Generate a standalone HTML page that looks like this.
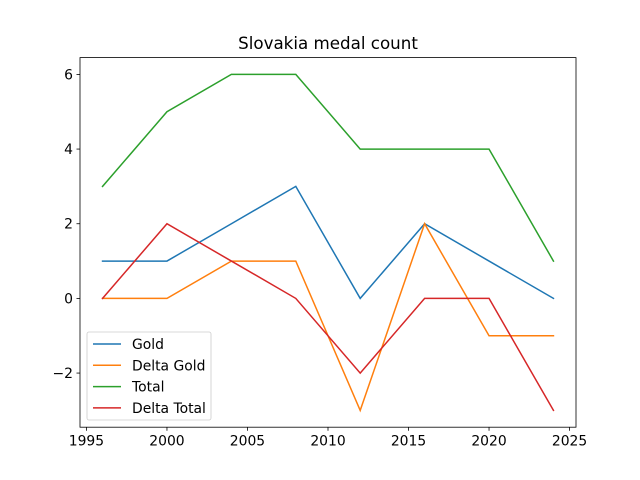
<!DOCTYPE html>
<html><head><meta charset="utf-8"><style>body{margin:0;background:#fff}svg{display:block;font-family:"DejaVu Sans","Liberation Sans",sans-serif}</style></head>
<body>
<svg id="chart" width="640" height="480" xmlns="http://www.w3.org/2000/svg"></svg>
<script>
const years = [1996, 2000, 2004, 2008, 2012, 2016, 2020, 2024];
const gold = [1, 1, 2, 3, 0, 2, 1, 0];
const deltaGold = [0, 0, 1, 1, -3, 2, -1, -1];
const total = [3, 5, 6, 6, 4, 4, 4, 1];
const deltaTotal = [0, 2, 1, 0, -2, 0, 0, -3];
const xTicks = [1995, 2000, 2005, 2010, 2015, 2020, 2025];
const yTicks = [-2, 0, 2, 4, 6];
const seriesNames = ["Gold", "Delta Gold", "Total", "Delta Total"];

const L = 80, R = 576, T = 57.6, B = 427.2;
const xMin = 1994.6, xMax = 2025.4, yMin = -3.45, yMax = 6.45;
const sx = v => L + (v - xMin) / (xMax - xMin) * (R - L);
const sy = v => B - (v - yMin) / (yMax - yMin) * (B - T);
const svg = document.getElementById('chart');
const NS = 'http://www.w3.org/2000/svg';
function mk(tag, attrs, parent) {
  const e = document.createElementNS(NS, tag);
  for (const k in attrs) e.setAttribute(k, attrs[k]);
  (parent || svg).appendChild(e);
  return e;
}
const colors = ["#1f77b4", "#ff7f0e", "#2ca02c", "#d62728"];
const data = [gold, deltaGold, total, deltaTotal];
const lineNames = ['gold-line', 'delta-gold-line', 'total-line', 'delta-total-line'];

data.forEach((s, i) => {
  const p = mk('polyline', {points: s.map((v, j) => sx(years[j]) + ',' + sy(v)).join(' '), fill: 'none', stroke: colors[i], 'stroke-width': 1.5, 'stroke-linecap': 'square'});
  
  
});

const frame = mk('rect', {x: L, y: T, width: R - L, height: B - T, fill: 'none', stroke: '#000', 'stroke-width': 0.8});



xTicks.forEach(t => {
  const x = sx(t);
  mk('line', {x1: x, x2: x, y1: B, y2: B + 3.5, stroke: '#000', 'stroke-width': 0.8});
  const tx = mk('text', {x: x, y: B + 18.5, 'font-size': 13.9, 'text-anchor': 'middle'});
  tx.textContent = t;
  
  
});
yTicks.forEach(t => {
  const y = sy(t);
  mk('line', {x1: L - 3.5, x2: L, y1: y, y2: y, stroke: '#000', 'stroke-width': 0.8});
  const tx = mk('text', {x: L - 7, y: y + 5, 'font-size': 13.9, 'text-anchor': 'end'});
  tx.textContent = t < 0 ? '\u2212' + Math.abs(t) : t;
  
  
});

const title = mk('text', {x: (L + R) / 2, y: 49, 'font-size': 16.7, 'text-anchor': 'middle'});
title.textContent = 'Slovakia medal count';



const lg = mk('g', {});


mk('rect', {x: 87, y: 332, width: 124, height: 88, rx: 2, fill: '#fff', 'fill-opacity': 0.8, stroke: '#ccc', 'stroke-width': 0.8}, lg);
seriesNames.forEach((n, i) => {
  const y = 344 + i * 21.3;
  const g = mk('g', {}, lg);
  
  
  mk('line', {x1: 93, x2: 121, y1: y, y2: y, stroke: colors[i], 'stroke-width': 1.5}, g);
  const t = mk('text', {x: 132, y: y + 5, 'font-size': 13.9}, g);
  t.textContent = n;
});
</script>
</body></html>
